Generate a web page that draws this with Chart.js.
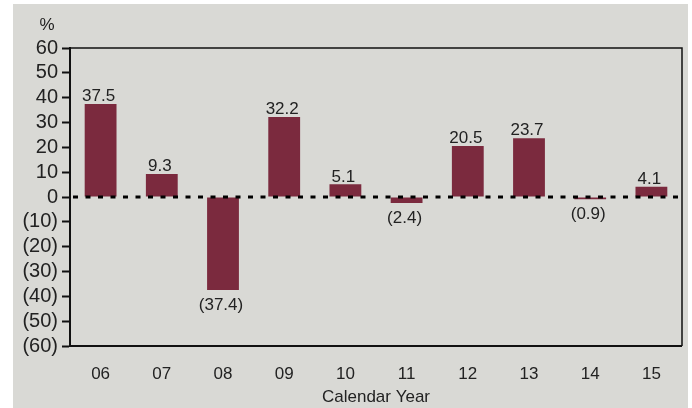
<!DOCTYPE html>
<html>
<head>
<meta charset="utf-8">
<script src="https://cdn.jsdelivr.net/npm/chart.js@4.4.1/dist/chart.umd.min.js"></script>
<style>
  html, body { margin: 0; padding: 0; background: #ffffff; }
  #wrap { position: absolute; left: 0; top: 0; width: 692px; height: 408px; }
</style>
</head>
<body>
<div id="wrap"><canvas id="returnsChart" width="692" height="408"></canvas></div>
<script>
// chart data
const years = ['06', '07', '08', '09', '10', '11', '12', '13', '14', '15'];
const returns = [37.5, 9.3, -37.4, 32.2, 5.1, -2.4, 20.5, 23.7, -0.9, 4.1];
const yTicks = [60, 50, 40, 30, 20, 10, 0, -10, -20, -30, -40, -50, -60];

const fontFamily = '"Liberation Sans", Arial, sans-serif';
const barColor = '#7b2a3e';

function fmt(v) {
  return v < 0 ? '(' + Math.abs(v) + ')' : String(v);
}

// gray panel behind everything
const panelPlugin = {
  id: 'panel',
  beforeDraw(chart) {
    const ctx = chart.ctx;
    ctx.save();
    ctx.fillStyle = '#d9d9d5';
    ctx.fillRect(13, 4, 675, 404);
    // percent sign
    ctx.fillStyle = '#222';
    ctx.font = '17px ' + fontFamily;
    ctx.textAlign = 'center';
    ctx.textBaseline = 'alphabetic';
    ctx.fillText('%', 47, 30);
    ctx.restore();
  }
};

// frame, zero line and value labels
const overlayPlugin = {
  id: 'overlay',
  afterDatasetsDraw(chart) {
    const ctx = chart.ctx;
    const a = chart.chartArea;
    const y = chart.scales.y;
    ctx.save();
    // top and right border
    ctx.strokeStyle = '#111';
    ctx.lineWidth = 1.5;
    ctx.beginPath();
    ctx.moveTo(a.left, a.top);
    ctx.lineTo(a.right, a.top);
    ctx.lineTo(a.right, a.bottom);
    ctx.stroke();
    // bottom axis
    ctx.lineWidth = 2;
    ctx.beginPath();
    ctx.moveTo(a.left, a.bottom);
    ctx.lineTo(a.right, a.bottom);
    ctx.stroke();
    // dashed zero line
    const y0 = y.getPixelForValue(0);
    ctx.strokeStyle = '#000';
    ctx.lineWidth = 3;
    ctx.setLineDash([5, 7.5]);
    ctx.beginPath();
    ctx.moveTo(a.left + 3, y0);
    ctx.lineTo(a.right, y0);
    ctx.stroke();
    ctx.setLineDash([]);

    // value labels
    const meta = chart.getDatasetMeta(0);
    ctx.fillStyle = '#222';
    ctx.font = '17px ' + fontFamily;
    ctx.textAlign = 'center';
    meta.data.forEach((bar, i) => {
      const v = returns[i];
      if (v >= 0) {
        ctx.textBaseline = 'bottom';
        ctx.fillText(fmt(v), bar.x - 2, bar.y + 1);
      } else {
        ctx.textBaseline = 'top';
        ctx.fillText(fmt(v), bar.x - 2, bar.y + 7);
      }
    });
    ctx.restore();
  }
};

const config = {
  type: 'bar',
  data: {
    labels: years,
    datasets: [{
      data: returns,
      backgroundColor: barColor,
      borderWidth: 0,
      barPercentage: 0.52,
      categoryPercentage: 1.0
    }]
  },
  options: {
    responsive: false,
    animation: false,
    layout: { padding: { left: 0, right: 10, top: 48, bottom: 0 } },
    plugins: {
      legend: { display: false },
      tooltip: { enabled: false }
    },
    scales: {
      x: {
        type: 'category',
        grid: { display: false, drawTicks: false },
        border: { display: false },
        ticks: {
          color: '#222',
          padding: 18,
          maxRotation: 0,
          font: { family: fontFamily, size: 17 }
        },
        title: {
          display: true,
          text: 'Calendar Year',
          color: '#222',
          padding: { top: -4, bottom: 0 },
          font: { family: fontFamily, size: 17 }
        },
        afterFit(scale) { scale.height = 62; }
      },
      y: {
        min: -60,
        max: 60,
        afterBuildTicks(scale) {
          scale.ticks = yTicks.map(v => ({ value: v }));
        },
        grid: {
          drawOnChartArea: false,
          drawTicks: true,
          tickLength: 8,
          tickWidth: 2,
          tickColor: '#111'
        },
        border: { display: true, color: '#111', width: 2 },
        ticks: {
          color: '#222',
          padding: 4,
          autoSkip: false,
          font: { family: fontFamily, size: 20 },
          callback: v => fmt(v)
        },
        afterFit(scale) { scale.width = 70; }
      }
    }
  },
  plugins: [panelPlugin, overlayPlugin]
};

const ctx = document.getElementById('returnsChart').getContext('2d');
new Chart(ctx, config);
</script>
</body>
</html>
